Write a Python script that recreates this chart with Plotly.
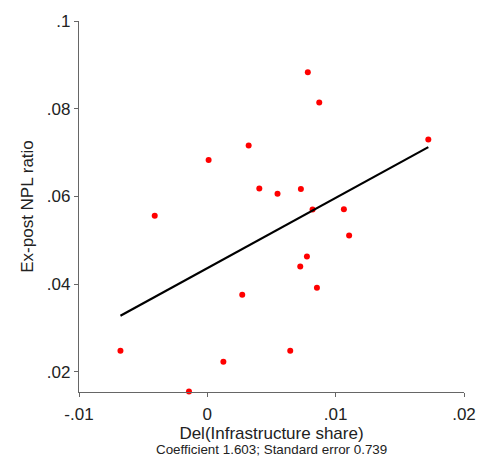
import plotly.graph_objects as go

# Data
x_vals = [-0.00677, -0.0041, 0.0001, 0.00322, 0.00783, 0.00872, 0.00405, 0.00547,
          0.00729, 0.0082, 0.01064, 0.01722, 0.01105, 0.00776, 0.00724, 0.00854,
          0.00646, 0.00272, 0.00125, -0.00143]
y_vals = [0.0248, 0.0556, 0.0683, 0.0716, 0.0883, 0.0814, 0.0618, 0.0606,
          0.0617, 0.0570, 0.0571, 0.0730, 0.0511, 0.0463, 0.0440, 0.0392,
          0.0248, 0.0376, 0.0223, 0.0155]
fit_intercept = 0.04363
fit_slope = 1.603

x_ticks = [-0.01, 0, 0.01, 0.02]
x_tick_labels = ["-.01", "0", ".01", ".02"]
y_ticks = [0.02, 0.04, 0.06, 0.08, 0.1]
y_tick_labels = [".02", ".04", ".06", ".08", ".1"]

x_line = [min(x_vals), max(x_vals)]
y_line = [fit_intercept + fit_slope * v for v in x_line]

font_family = "Liberation Sans, Arial, sans-serif"

fig = go.Figure()
fig.add_trace(go.Scatter(x=x_vals, y=y_vals, mode="markers",
                         marker=dict(color="#ff0000", size=6, line=dict(width=0)),
                         cliponaxis=False, showlegend=False))
fig.add_trace(go.Scatter(x=x_line, y=y_line, mode="lines",
                         line=dict(color="black", width=2.2), showlegend=False))

axis_common = dict(showgrid=False, zeroline=False, showline=True, linecolor="#666666",
                   linewidth=1.3, ticks="outside", ticklen=4, tickcolor="#666666",
                   tickwidth=1.3, tickfont=dict(family=font_family, size=17, color="#222222"))

fig.update_layout(
    width=491, height=460,
    margin=dict(l=78.5, r=27, t=11.7, b=68),
    paper_bgcolor="white", plot_bgcolor="white",
    font=dict(family=font_family, color="#222222"),
    xaxis=dict(range=[-0.01, 0.02], tickvals=x_ticks, ticktext=x_tick_labels,
               ticklabelstandoff=2,
               title=dict(text="Del(Infrastructure share)", font=dict(size=17), standoff=0),
               **axis_common),
    yaxis=dict(range=[0.0154, 0.1], tickvals=y_ticks, ticktext=y_tick_labels,
               title=dict(text="Ex-post NPL ratio", font=dict(size=17), standoff=8),
               **axis_common),
    annotations=[dict(text="Coefficient 1.603; Standard error 0.739", xref="paper", yref="paper",
                      x=0.5, y=0, yshift=-57, showarrow=False, yanchor="middle",
                      font=dict(size=13.4, family=font_family, color="#222222"))],
)

fig.write_html("out.html")
